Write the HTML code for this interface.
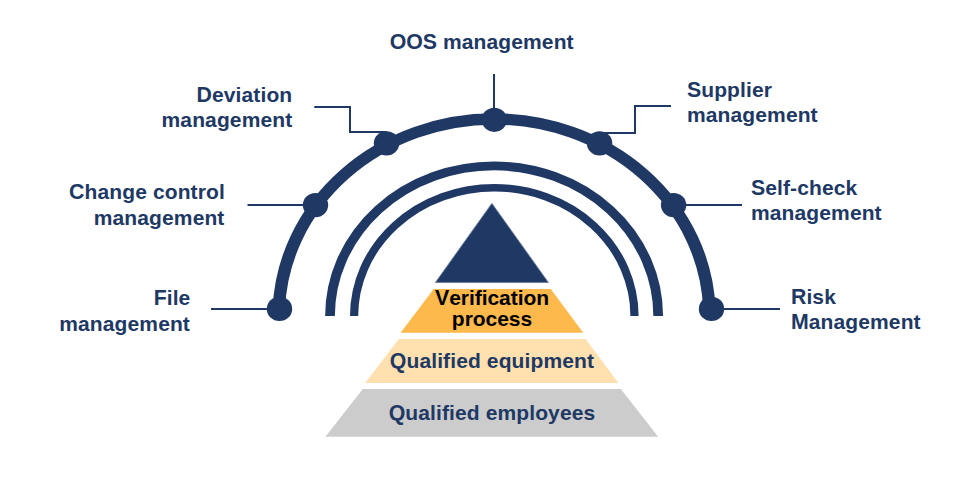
<!DOCTYPE html>
<html><head><meta charset="utf-8"><title>Quality management</title>
<style>
html,body{margin:0;padding:0;background:#fff;}
body{width:975px;height:482px;overflow:hidden;position:relative;}
svg{display:block;position:absolute;left:0;top:0;}
.t{position:absolute;white-space:nowrap;font-family:"Liberation Sans",Arial,sans-serif;font-weight:bold;font-size:21px;line-height:26px;letter-spacing:0.12px;color:#203864;}
.r{text-align:right;}
.m{text-align:center;}
.k{color:#000;letter-spacing:-0.04px;}
.f::first-letter,.c{font-size:21.3px;letter-spacing:0;}
</style></head><body>
<svg width="975" height="482" viewBox="0 0 975 482">
<g transform="translate(494.1,316) scale(1,0.915)"><path d="M-215.26,-7.65 A215.4,215.4 0 0 1 215.26,-7.65" fill="none" stroke="#203864" stroke-width="12.4"/></g>
<g transform="translate(494.1,316) scale(1,0.915)"><path d="M-164.10,0.00 A164.1,164.1 0 0 1 164.10,0.00" fill="none" stroke="#203864" stroke-width="9.7"/></g>
<g transform="translate(494.3,316) scale(1,0.915)"><path d="M-140.20,0.00 A140.2,140.2 0 0 1 140.20,0.00" fill="none" stroke="#203864" stroke-width="8.2"/></g>
<path d="M211,309 H279.5" fill="none" stroke="#1F3864" stroke-width="2"/>
<path d="M247.5,205 H315.5" fill="none" stroke="#1F3864" stroke-width="2"/>
<path d="M314.3,107 H350 V132 H386.5" fill="none" stroke="#1F3864" stroke-width="2"/>
<path d="M494,74 V119.8" fill="none" stroke="#1F3864" stroke-width="2"/>
<path d="M599.6,133 H635 V106 H671" fill="none" stroke="#1F3864" stroke-width="2"/>
<path d="M673.6,205 H742" fill="none" stroke="#1F3864" stroke-width="2"/>
<path d="M711.5,309 H780" fill="none" stroke="#1F3864" stroke-width="2"/>
<ellipse cx="279.5" cy="308.9" rx="12.7" ry="12.1" fill="#203864"/>
<ellipse cx="315.5" cy="205.1" rx="12.7" ry="12.1" fill="#203864"/>
<ellipse cx="386.5" cy="143.4" rx="12.7" ry="12.1" fill="#203864"/>
<ellipse cx="494.3" cy="119.8" rx="12.7" ry="12.1" fill="#203864"/>
<ellipse cx="599.6" cy="143.4" rx="12.7" ry="12.1" fill="#203864"/>
<ellipse cx="673.6" cy="205.1" rx="12.7" ry="12.1" fill="#203864"/>
<ellipse cx="711.5" cy="308.9" rx="12.7" ry="12.1" fill="#203864"/>
<polygon points="491.9,203.4 548.30,282.4 435.50,282.4" fill="#203864" stroke="#677B9D" stroke-width="1" stroke-linejoin="miter" stroke-miterlimit="10"/>
<polygon points="433.7,288.9 550.8,288.9 583.2,332.8 400.6,332.8" fill="#FDB94B"/>
<polygon points="398.8,338.9 585.6,338.9 618.5,382.9 365.2,382.9" fill="#FFE0AE"/>
<polygon points="362.8,389 620.8,389 658.2,436.8 325.4,436.8" fill="#CCCCCC"/>
</svg>
<div class="t m" style="left:281.7px;width:400px;top:28.72px"><span class="c">OOS</span> management</div>
<div class="t f r" style="right:682.7px;top:81.72px">Deviation</div>
<div class="t r" style="right:682.7px;top:106.72px">management</div>
<div class="t f r" style="right:750.1px;top:178.72px">Change control</div>
<div class="t r" style="right:750.5px;top:204.72px">management</div>
<div class="t f r" style="right:784.6px;top:284.72px">File</div>
<div class="t r" style="right:785.0px;top:310.72px">management</div>
<div class="t f" style="left:687px;top:76.72px">Supplier</div>
<div class="t" style="left:687px;top:101.72px">management</div>
<div class="t f" style="left:751px;top:174.72px">Self-check</div>
<div class="t" style="left:751px;top:199.72px">management</div>
<div class="t f" style="left:791px;top:283.72px">Risk</div>
<div class="t f" style="left:791px;top:308.72px">Management</div>
<div class="t f k m" style="left:292.0px;width:400px;top:284.72px">Verification</div>
<div class="t k m" style="left:292.0px;width:400px;top:305.72px">process</div>
<div class="t f m" style="left:292.0px;width:400px;top:347.72px">Qualified equipment</div>
<div class="t f m" style="left:292.0px;width:400px;top:399.72px">Qualified employees</div>
</body></html>
